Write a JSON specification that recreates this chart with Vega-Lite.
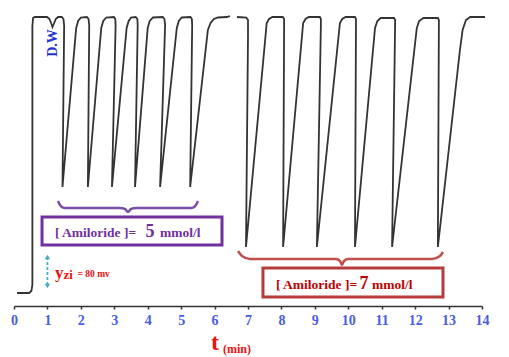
{
  "$schema": "https://vega.github.io/schema/vega-lite/v6.json",
  "autosize": {"type": "none"},
  "width": 468,
  "height": 306,
  "padding": {"left": 14, "top": 0, "right": 27, "bottom": 51},
  "background": "white",
  "config": {"view": {"stroke": null},
    "axisX": {"labelOverlap": false, "labelFlush": false, "grid": false}},
  "encoding": {
    "x": {"field": "t", "type": "quantitative", "scale": {"domain": [0, 14], "nice": false, "zero": false},
          "axis": {"title": null, "values": [0,1,2,3,4,5,6,7,8,9,10,11,12,13,14], "labelOverlap": false,
                   "domainColor": "#333333", "domainWidth": 1.5, "tickColor": "#333333", "tickWidth": 1.5, "tickSize": 3,
                   "labelFont": "Liberation Serif", "labelFontWeight": "bold", "labelFontSize": 14, "labelColor": "#4a5ce0",
                   "labelPadding": 4}},
    "y": {"field": "v", "type": "quantitative", "scale": {"domain": [0, 612], "nice": false, "zero": false}, "axis": null}
  },
  "layer": [
    {
      "data": {"values": [
        {"t":0.09,"v":26,"seg":"a"},{"t":0.45,"v":26,"seg":"a"},{"t":0.52,"v":30,"seg":"a"},{"t":0.55,"v":42,"seg":"a"},{"t":0.55,"v":560,"seg":"a"},{"t":0.57,"v":576,"seg":"a"},{"t":0.62,"v":578,"seg":"a"},{"t":0.99,"v":578,"seg":"a"},{"t":1.06,"v":574,"seg":"a"},{"t":1.12,"v":564,"seg":"a"},{"t":1.15,"v":558,"seg":"a"},{"t":1.19,"v":564,"seg":"a"},{"t":1.25,"v":574,"seg":"a"},{"t":1.32,"v":578,"seg":"a"},{"t":1.43,"v":578,"seg":"a"},{"t":1.48,"v":574,"seg":"a"},{"t":1.5,"v":560,"seg":"a"},{"t":1.45,"v":238,"seg":"a"},
        {"t":1.86,"v":556,"seg":"a"},{"t":1.92,"v":570,"seg":"a"},{"t":2.0,"v":577,"seg":"a"},{"t":2.18,"v":578,"seg":"a"},{"t":2.23,"v":574,"seg":"a"},{"t":2.25,"v":562,"seg":"a"},{"t":2.21,"v":238,"seg":"a"},
        {"t":2.61,"v":556,"seg":"a"},{"t":2.67,"v":570,"seg":"a"},{"t":2.76,"v":577,"seg":"a"},{"t":2.99,"v":578,"seg":"a"},{"t":3.03,"v":574,"seg":"a"},{"t":3.04,"v":562,"seg":"a"},{"t":2.93,"v":238,"seg":"a"},
        {"t":3.37,"v":556,"seg":"a"},{"t":3.43,"v":570,"seg":"a"},{"t":3.5,"v":577,"seg":"a"},{"t":3.64,"v":578,"seg":"a"},{"t":3.69,"v":574,"seg":"a"},{"t":3.7,"v":562,"seg":"a"},{"t":3.62,"v":238,"seg":"a"},
        {"t":4.0,"v":556,"seg":"a"},{"t":4.06,"v":570,"seg":"a"},{"t":4.16,"v":577,"seg":"a"},{"t":4.45,"v":578,"seg":"a"},{"t":4.5,"v":574,"seg":"a"},{"t":4.52,"v":562,"seg":"a"},{"t":4.37,"v":238,"seg":"a"},
        {"t":4.87,"v":556,"seg":"a"},{"t":4.93,"v":570,"seg":"a"},{"t":5.02,"v":577,"seg":"a"},{"t":5.28,"v":578,"seg":"a"},{"t":5.32,"v":574,"seg":"a"},{"t":5.33,"v":562,"seg":"a"},{"t":5.27,"v":238,"seg":"a"},
        {"t":5.8,"v":552,"seg":"a"},{"t":5.88,"v":566,"seg":"a"},{"t":5.98,"v":574,"seg":"a"},{"t":6.1,"v":577,"seg":"a"},{"t":6.37,"v":578,"seg":"a"},{"t":6.46,"v":580,"seg":"a"},
        {"t":6.67,"v":578,"seg":"b"},{"t":6.95,"v":577,"seg":"b"},{"t":7.0,"v":572,"seg":"b"},{"t":7.0,"v":540,"seg":"b"},{"t":6.94,"v":118,"seg":"b"},
        {"t":7.56,"v":566,"seg":"b"},{"t":7.63,"v":574,"seg":"b"},{"t":7.73,"v":578,"seg":"b"},{"t":8.04,"v":578,"seg":"b"},{"t":8.08,"v":574,"seg":"b"},{"t":8.08,"v":560,"seg":"b"},{"t":8.05,"v":118,"seg":"b"},
        {"t":8.65,"v":566,"seg":"b"},{"t":8.72,"v":574,"seg":"b"},{"t":8.82,"v":578,"seg":"b"},{"t":9.15,"v":578,"seg":"b"},{"t":9.18,"v":574,"seg":"b"},{"t":9.18,"v":560,"seg":"b"},{"t":9.06,"v":118,"seg":"b"},
        {"t":9.75,"v":566,"seg":"b"},{"t":9.82,"v":574,"seg":"b"},{"t":9.92,"v":578,"seg":"b"},{"t":10.2,"v":578,"seg":"b"},{"t":10.23,"v":574,"seg":"b"},{"t":10.23,"v":560,"seg":"b"},{"t":10.2,"v":118,"seg":"b"},
        {"t":10.8,"v":556,"seg":"b"},{"t":10.87,"v":570,"seg":"b"},{"t":10.97,"v":576,"seg":"b"},{"t":11.37,"v":576,"seg":"b"},{"t":11.4,"v":572,"seg":"b"},{"t":11.4,"v":560,"seg":"b"},{"t":11.31,"v":118,"seg":"b"},
        {"t":12.05,"v":556,"seg":"b"},{"t":12.12,"v":570,"seg":"b"},{"t":12.25,"v":576,"seg":"b"},{"t":12.68,"v":576,"seg":"b"},{"t":12.71,"v":572,"seg":"b"},{"t":12.71,"v":560,"seg":"b"},{"t":12.68,"v":118,"seg":"b"},
        {"t":13.34,"v":512,"seg":"b"},{"t":13.42,"v":552,"seg":"b"},{"t":13.52,"v":572,"seg":"b"},{"t":13.65,"v":578,"seg":"b"},{"t":14.09,"v":578,"seg":"b"}
      ]},
      "mark": {"type": "line", "color": "#333333", "strokeWidth": 1.8},
      "encoding": {"detail": {"field": "seg"}, "order": {"field": "idx"}}
    },
    {
      "data": {"values": [{"t": 0.838, "t2": 6.222, "v": 178, "v2": 122}]},
      "mark": {"type": "rect", "fill": null, "fillOpacity": 0, "stroke": "#7030a0", "strokeWidth": 3},
      "encoding": {"x2": {"field": "t2"}, "y2": {"field": "v2"}}
    },
    {
      "data": {"values": [{"t": 7.448, "t2": 12.833, "v": 76, "v2": 18}]},
      "mark": {"type": "rect", "fill": null, "fillOpacity": 0, "stroke": "#b83b3b", "strokeWidth": 3},
      "encoding": {"x2": {"field": "t2"}, "y2": {"field": "v2"}}
    },
    {
      "data": {"values": [
        {"t":1.316,"v":210},{"t":1.376,"v":202},{"t":1.496,"v":196},{"t":3.171,"v":196},{"t":3.32,"v":194},{"t":3.41,"v":188},{"t":3.5,"v":194},{"t":3.649,"v":196},{"t":5.325,"v":196},{"t":5.444,"v":202},{"t":5.504,"v":210}
      ]},
      "mark": {"type": "line", "color": "#7a4fa8", "strokeWidth": 2.5, "interpolate": "monotone"},
      "encoding": {}
    },
    {
      "data": {"values": [
        {"t":6.701,"v":110},{"t":6.82,"v":100},{"t":7.059,"v":94},{"t":9.632,"v":94},{"t":9.752,"v":90},{"t":9.812,"v":82},{"t":9.871,"v":90},{"t":9.991,"v":94},{"t":12.504,"v":94},{"t":12.743,"v":100},{"t":12.833,"v":108}
      ]},
      "mark": {"type": "line", "color": "#c0504d", "strokeWidth": 2.5, "interpolate": "monotone"},
      "encoding": {}
    },
    {
      "data": {"values": [{"t": 1.0, "v": 42, "v2": 96}]},
      "mark": {"type": "rule", "color": "#4bacc6", "strokeWidth": 1.8, "strokeDash": [3, 2]},
      "encoding": {"y2": {"field": "v2"}}
    },
    {
      "data": {"values": [{"t": 1.0, "v": 98}]},
      "mark": {"type": "point", "shape": "triangle-up", "filled": true, "color": "#4bacc6", "size": 30, "opacity": 1}
    },
    {
      "data": {"values": [{"t": 1.0, "v": 40}]},
      "mark": {"type": "point", "shape": "triangle-down", "filled": true, "color": "#4bacc6", "size": 30, "opacity": 1}
    },
    {
      "data": {"values": [{"t": 1.226, "v": 146, "label": "[ Amiloride ]="}, {"t": 4.367, "v": 146, "label": "mmol/l"}]},
      "mark": {"type": "text", "align": "left", "baseline": "middle", "font": "Liberation Serif", "fontWeight": "bold", "fontSize": 13.5, "color": "#7030a0"},
      "encoding": {"text": {"field": "label"}}
    },
    {
      "data": {"values": [{"t": 4.07, "v": 148, "label": "5"}]},
      "mark": {"type": "text", "align": "center", "baseline": "middle", "font": "Liberation Serif", "fontWeight": "bold", "fontSize": 18, "color": "#7030a0"},
      "encoding": {"text": {"field": "label"}}
    },
    {
      "data": {"values": [{"t": 7.837, "v": 42, "label": "[ Amiloride ]="}, {"t": 10.709, "v": 42, "label": "mmol/l"}]},
      "mark": {"type": "text", "align": "left", "baseline": "middle", "font": "Liberation Serif", "fontWeight": "bold", "fontSize": 13.5, "color": "#c00000"},
      "encoding": {"text": {"field": "label"}}
    },
    {
      "data": {"values": [{"t": 10.47, "v": 44, "label": "7"}]},
      "mark": {"type": "text", "align": "center", "baseline": "middle", "font": "Liberation Serif", "fontWeight": "bold", "fontSize": 18, "color": "#c00000"},
      "encoding": {"text": {"field": "label"}}
    },
    {
      "data": {"values": [{"t": 1.226, "v": 66, "label": "y"}]},
      "mark": {"type": "text", "align": "left", "baseline": "middle", "font": "Liberation Serif", "fontWeight": "bold", "fontSize": 17, "color": "#ee1111"},
      "encoding": {"text": {"field": "label"}}
    },
    {
      "data": {"values": [{"t": 1.48, "v": 62, "label": "zi"}]},
      "mark": {"type": "text", "align": "left", "baseline": "middle", "font": "Liberation Serif", "fontWeight": "bold", "fontSize": 13, "color": "#ee1111"},
      "encoding": {"text": {"field": "label"}}
    },
    {
      "data": {"values": [{"t": 1.9, "v": 64, "label": "= 80 mv"}]},
      "mark": {"type": "text", "align": "left", "baseline": "middle", "font": "Liberation Serif", "fontWeight": "bold", "fontSize": 9.5, "color": "#ee1111"},
      "encoding": {"text": {"field": "label"}}
    },
    {
      "data": {"values": [{"t": 6.013, "v": -88, "label": "t"}]},
      "mark": {"type": "text", "align": "center", "baseline": "alphabetic", "font": "Liberation Serif", "fontWeight": "bold", "fontSize": 24, "color": "#ee1111"},
      "encoding": {"text": {"field": "label"}}
    },
    {
      "data": {"values": [{"t": 6.252, "v": -94, "label": "(min)"}]},
      "mark": {"type": "text", "align": "left", "baseline": "alphabetic", "font": "Liberation Serif", "fontWeight": "bold", "fontSize": 12, "color": "#ee1111"},
      "encoding": {"text": {"field": "label"}}
    },
    {
      "data": {"values": [{"t": 1.17, "v": 526, "label": "D.W"}]},
      "mark": {"type": "text", "align": "center", "baseline": "middle", "angle": 270, "font": "Liberation Serif", "fontWeight": "bold", "fontSize": 14, "color": "#2233cc"},
      "encoding": {"text": {"field": "label"}}
    }
  ]
}
